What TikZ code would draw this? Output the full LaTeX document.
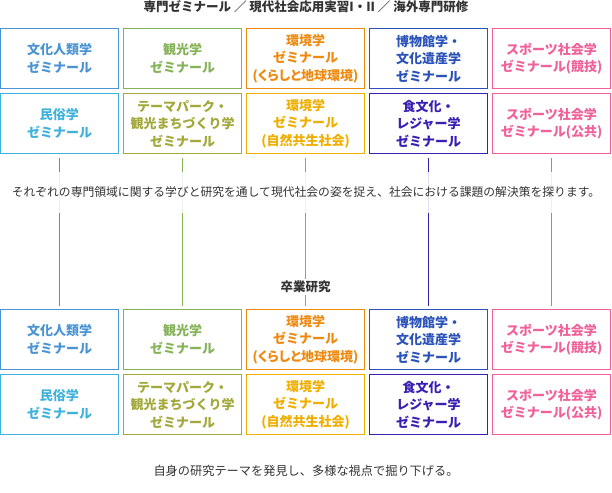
\documentclass[tikz,border=0pt]{standalone}
\usepackage{fontspec}
\setmainfont{Noto Sans CJK JP}

\definecolor{blauA}{HTML}{4A94D4}
\definecolor{blauB}{HTML}{3FB2DC}
\definecolor{gruenA}{HTML}{86B35A}
\definecolor{gruenB}{HTML}{A3A83A}
\definecolor{orangeA}{HTML}{EE8A10}
\definecolor{orangeB}{HTML}{F0AE00}
\definecolor{indigoA}{HTML}{2A52B8}
\definecolor{indigoB}{HTML}{3A1FB3}
\definecolor{rosa}{HTML}{F0609A}
\definecolor{grau}{HTML}{333333}

\tikzset{
	feld/.style={draw, line width=1.2pt, fill=white, minimum width=117.8pt,
		minimum height=59.8pt, inner sep=0pt, align=center,
		font=\bfseries\fontsize{13}{17.5}\selectfont},
	verbinder/.style={line width=1pt, shorten <=4pt, shorten >=3pt},
	titel/.style={text=grau, font=\bfseries\fontsize{12.5}{14}\selectfont},
	satz/.style={text=grau, font=\fontsize{11.8}{14}\selectfont}
}

\begin{document}
\begin{tikzpicture}[x=1pt, y=-1pt]
	\useasboundingbox (0,0) rectangle (612,492);
	% Ueberschrift oben
	\node[titel] (kopf) at (306, 7) {専門ゼミナール ／ 現代社会応用実習I・II ／ 海外専門研修};

	% Felder oben und unten
	\foreach \ebene/\dy in {o/0, u/281} {
		\node[feld, draw=blauA, text=blauA] (\ebene11) at (59.5, {58.5+\dy}) {文化人類学\\ゼミナール};
		\node[feld, draw=gruenA, text=gruenA] (\ebene12) at (182.5, {58.5+\dy}) {観光学\\ゼミナール};
		\node[feld, draw=orangeA, text=orangeA] (\ebene13) at (305.5, {58.5+\dy}) {環境学\\ゼミナール\\{\addfontfeatures{RawFeature=+palt}(くらしと地球環境)}};
		\node[feld, draw=indigoA, text=indigoA] (\ebene14) at (428.5, {58.5+\dy}) {博物館学・\\文化遺産学\\ゼミナール};
		\node[feld, draw=rosa, text=rosa] (\ebene15) at (551.5, {58.5+\dy}) {スポーツ社会学\\ゼミナール(競技)};
		\node[feld, draw=blauB, text=blauB] (\ebene21) at (59.5, {123.5+\dy}) {民俗学\\ゼミナール};
		\node[feld, draw=gruenB, text=gruenB] (\ebene22) at (182.5, {123.5+\dy}) {テーマパーク・\\観光まちづくり学\\ゼミナール};
		\node[feld, draw=orangeB, text=orangeB] (\ebene23) at (305.5, {123.5+\dy}) {環境学\\ゼミナール\\(自然共生社会)};
		\node[feld, draw=indigoB, text=indigoB] (\ebene24) at (428.5, {123.5+\dy}) {食文化・\\レジャー学\\ゼミナール};
		\node[feld, draw=rosa, text=rosa] (\ebene25) at (551.5, {123.5+\dy}) {スポーツ社会学\\ゼミナール(公共)};
	}

	% Verbindungen
	\foreach \s/\farbe in {1/blauA, 2/gruenA, 3/orangeA, 4/indigoB, 5/rosa}
		\draw[verbinder, \farbe] (o2\s) -- (u1\s);

	% Texte dazwischen
	\node[satz, fill=white, fill opacity=0.85, text opacity=1, minimum height=41pt]
		(mitte) at (306, 192) {それぞれの専門領域に関する学びと研究を通して現代社会の姿を捉え、社会における課題の解決策を探ります。};
	\node[titel, fill=white, inner sep=2pt] (abschluss) at (305.5, 287) {卒業研究};
	\node[satz, font=\fontsize{12.2}{14}\selectfont] (fuss) at (306, 471) {自身の研究テーマを発見し、多様な視点で掘り下げる。};
\end{tikzpicture}
\end{document}
